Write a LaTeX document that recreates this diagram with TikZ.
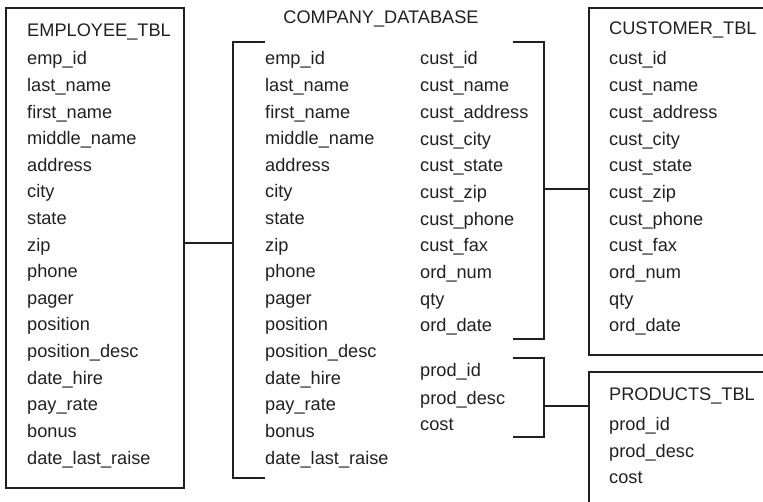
\documentclass[tikz,border=0pt]{standalone}
\usepackage{fontspec}
\setmainfont{Liberation Sans}
\definecolor{ln}{HTML}{231F20}
\definecolor{txt}{HTML}{231F20}
\begin{document}
\begin{tikzpicture}[x=1pt,y=-1pt]
\tikzset{
  fld/.style={anchor=base west, inner sep=0pt, text=txt, font=\fontsize{18.2}{20}\selectfont},
  ttl/.style={anchor=base, inner sep=0pt, text=txt, font=\fontsize{18.2}{20}\selectfont},
  tbl/.style={draw=ln, line width=2pt, inner sep=0pt, anchor=north west},
  wire/.style={draw=ln, line width=2pt}
}
\useasboundingbox (0,0) rectangle (763,502);
\clip (0,0) rectangle (763,502);

% tables
\node[tbl, minimum width=178pt, minimum height=480pt] (emp) at (5,7) {};
\node[tbl, minimum width=200pt, minimum height=347pt] (cust) at (588,7) {};
\node[tbl, minimum width=200pt, minimum height=160pt] (prod) at (588,371) {};

% title
\node[ttl] (db) at (381,24) {COMPANY\_DATABASE};

% employee table
\node[fld] (et) at (27,37) {EMPLOYEE\_TBL};
\foreach \t [count=\i from 0] in {emp\_id,last\_name,first\_name,middle\_name,address,city,state,zip,phone,pager,position,position\_desc,date\_hire,pay\_rate,bonus,date\_last\_raise}
  \node[fld] (e\i) at (27,65+26.6*\i) {\t};

% database, left column
\foreach \t [count=\i from 0] in {emp\_id,last\_name,first\_name,middle\_name,address,city,state,zip,phone,pager,position,position\_desc,date\_hire,pay\_rate,bonus,date\_last\_raise}
  \node[fld] (d\i) at (265,65+26.6*\i) {\t};

% database, right column
\foreach \t [count=\i from 0] in {cust\_id,cust\_name,cust\_address,cust\_city,cust\_state,cust\_zip,cust\_phone,cust\_fax,ord\_num,qty,ord\_date}
  \node[fld] (c\i) at (420,65+26.7*\i) {\t};
\foreach \t [count=\i from 0] in {prod\_id,prod\_desc,cost}
  \node[fld] (p\i) at (420,377+27*\i) {\t};

% customer table
\node[fld] (ct) at (609,35) {CUSTOMER\_TBL};
\foreach \t [count=\i from 0] in {cust\_id,cust\_name,cust\_address,cust\_city,cust\_state,cust\_zip,cust\_phone,cust\_fax,ord\_num,qty,ord\_date}
  \node[fld] (k\i) at (609,65+26.7*\i) {\t};

% products table
\node[fld] (pt) at (609,400) {PRODUCTS\_TBL};
\foreach \t [count=\i from 0] in {prod\_id,prod\_desc,cost}
  \node[fld] (q\i) at (609,431+26*\i) {\t};

% brackets
\coordinate (lbt) at (265,42);
\coordinate (lbb) at (265,478);
\coordinate (lbv) at (233,243);
\draw[wire] (lbt) -| (lbv) |- (lbb);
\draw[wire] (emp.east |- lbv) -- (lbv);

\coordinate (cbt) at (513,42);
\coordinate (cbb) at (513,339);
\coordinate (cbv) at (544,189);
\draw[wire] (cbt) -| (cbv) |- (cbb);
\draw[wire] (cbv) -- (cust.west |- cbv);

\coordinate (pbt) at (513,358);
\coordinate (pbb) at (513,437);
\coordinate (pbv) at (544,406);
\draw[wire] (pbt) -| (pbv) |- (pbb);
\draw[wire] (pbv) -- (prod.west |- pbv);
\end{tikzpicture}
\end{document}
